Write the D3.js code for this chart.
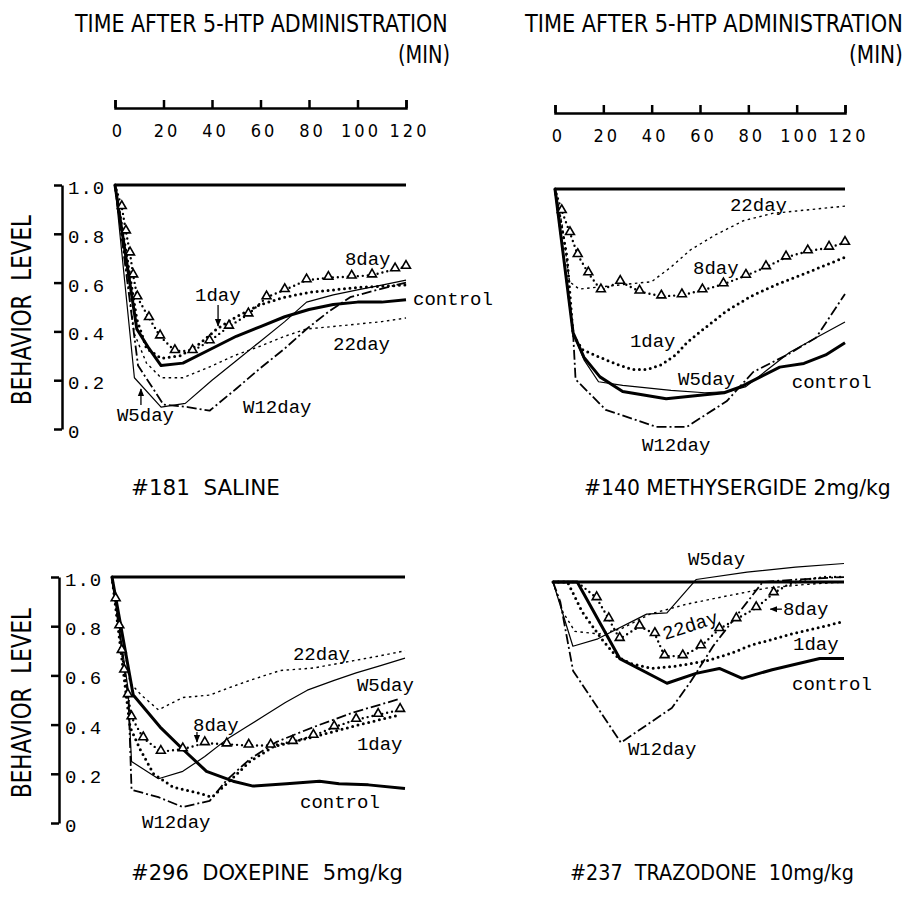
<!DOCTYPE html>
<html>
<head>
<meta charset="utf-8">
<script src="https://cdn.jsdelivr.net/npm/d3@7"></script>
<style>
  html, body { margin: 0; padding: 0; background: #fff; }
  svg { display: block; }
  .mono { font-family: "Liberation Mono", "DejaVu Sans Mono", monospace; }
  .narrow { font-family: "Liberation Sans Narrow", "DejaVu Sans Condensed", "Liberation Sans", sans-serif; white-space: pre; }
</style>
</head>
<body>
<div id="chart"></div>
<script>
// Axes
const TIME_TICKS = [0, 20, 40, 60, 80, 100, 120];
const LEVEL_TICKS = [0, 0.2, 0.4, 0.6, 0.8, 1.0];
const BASELINE = [[0, 1.0], [120, 1.0]];

// #181 saline  [time (min), behavior level]
const salineControl = [[0,1],[9,0.41],[14,0.33],[19,0.26],[28,0.27],[40,0.33],[50,0.38],[60,0.42],[70,0.46],[80,0.49],[90,0.51],[100,0.52],[110,0.52],[120,0.53]];
const salineW5day = [[0,1],[8,0.21],[19,0.09],[29,0.105],[40,0.2],[50,0.28],[60,0.36],[70,0.44],[79,0.52],[90,0.55],[100,0.57],[110,0.59],[120,0.61]];
const salineW12day = [[0,1],[9.5,0.26],[20,0.10],[30,0.09],[39,0.075],[50,0.165],[60,0.25],[70,0.33],[79,0.41],[88,0.48],[97,0.54],[108,0.57],[120,0.60]];
const saline1day = [[0,1],[5,0.7],[9,0.45],[13,0.33],[19,0.29],[27,0.30],[35,0.35],[42,0.41],[50,0.46],[60,0.51],[70,0.54],[80,0.56],[90,0.57],[100,0.58],[110,0.585],[120,0.59]];
const saline8day = [[0,1],[2.8,0.91],[4.5,0.81],[6.2,0.72],[7.5,0.63],[9.2,0.54],[14,0.455],[18.6,0.38],[24.7,0.32],[32,0.32],[39,0.36],[47,0.42],[55,0.47],[62.5,0.54],[70,0.57],[79,0.61],[88,0.62],[97.6,0.625],[106,0.63],[115.5,0.655],[120,0.665]];
const saline22day = [[0,1],[8,0.39],[13,0.27],[19,0.21],[28,0.21],[38,0.25],[49,0.30],[60,0.34],[70,0.38],[79,0.41],[90,0.42],[100,0.43],[110,0.44],[120,0.455]];

// #140 methysergide 2mg/kg
const methyControl = [[0,1],[7.5,0.41],[12,0.31],[18.6,0.23],[28,0.17],[46,0.14],[60,0.155],[70,0.165],[77,0.19],[85,0.23],[93,0.27],[103,0.285],[112,0.32],[120,0.37]];
const methyW5day = [[0,1],[7.5,0.41],[12,0.3],[18,0.21],[28,0.195],[48,0.175],[62,0.165],[72,0.17],[79,0.19],[88,0.26],[97,0.33],[108,0.39],[120,0.455]];
const methyW12day = [[0,1],[7.5,0.41],[8.5,0.22],[21,0.095],[42,0.025],[54.5,0.025],[71,0.13],[82,0.25],[96,0.32],[108,0.39],[120,0.57]];
const methy1day = [[0,1],[5,0.72],[7.5,0.40],[11.6,0.34],[18.6,0.31],[26,0.28],[32,0.26],[38,0.26],[44,0.28],[50,0.32],[54.5,0.37],[62,0.43],[71,0.50],[81,0.56],[92,0.61],[100,0.64],[110,0.68],[120,0.72]];
const methy8day = [[0,1],[2.8,0.91],[6.2,0.82],[9.4,0.73],[13.8,0.655],[19,0.585],[27,0.62],[35,0.58],[44,0.56],[52.5,0.565],[61,0.585],[69.7,0.61],[79,0.645],[87.3,0.68],[95.6,0.72],[104.6,0.745],[113.4,0.76],[120,0.78]];
const methy22day = [[0,1],[3,0.85],[6,0.62],[10,0.59],[20,0.6],[30,0.61],[40,0.62],[48,0.68],[56,0.75],[66,0.81],[78,0.87],[90,0.9],[100,0.91],[110,0.92],[120,0.93]];

// #296 doxepine 5mg/kg
const doxeControl = [[0,1],[8.7,0.52],[19.7,0.39],[29,0.30],[38.7,0.21],[49.6,0.17],[57.8,0.15],[71.5,0.16],[85,0.17],[93,0.16],[105,0.155],[120,0.14]];
const doxeW5day = [[0,1],[6.5,0.55],[8,0.25],[19,0.18],[29,0.21],[38,0.27],[47,0.34],[55,0.39],[63,0.44],[71,0.49],[80,0.54],[91,0.58],[100,0.61],[110,0.64],[120,0.67]];
const doxeW12day = [[0,1],[6.8,0.5],[8,0.135],[19,0.105],[29,0.065],[40,0.09],[47,0.175],[56.5,0.26],[67.5,0.33],[82.5,0.39],[99,0.45],[118,0.505]];
const doxe1day = [[0,1],[7.4,0.39],[11.5,0.30],[17,0.20],[25,0.146],[36,0.12],[41,0.105],[47,0.16],[56.5,0.25],[66,0.31],[82.5,0.35],[101.5,0.40],[118,0.44]];
const doxe8day = [[0,1],[1.5,0.91],[3,0.8],[4,0.7],[5,0.62],[6.5,0.52],[8,0.43],[12.8,0.345],[20,0.29],[29,0.30],[38,0.325],[47,0.32],[56,0.315],[65,0.315],[74,0.33],[82.5,0.355],[91,0.39],[100,0.42],[109,0.44],[118,0.46]];
const doxe22day = [[0,1],[7.4,0.57],[12,0.52],[19,0.46],[29,0.51],[40,0.52],[48,0.55],[56.5,0.58],[69,0.62],[82.5,0.63],[99,0.66],[110,0.68],[120,0.70]];

// #237 trazodone 10mg/kg
const trazoControl = [[0,1],[10,1.0],[27.5,0.69],[47,0.59],[59,0.63],[68.6,0.65],[78,0.61],[90.4,0.645],[110,0.69],[120,0.69]];
const trazoW5day = [[0,1],[8.2,0.74],[18.5,0.77],[38.6,0.87],[47,0.875],[59,1.01],[80,1.04],[100,1.06],[120,1.075]];
const trazoW12day = [[0,1],[3,0.92],[8.3,0.64],[28,0.35],[49,0.49],[57,0.60],[66,0.74],[77,0.88],[86.5,1.0],[100,1.01],[120,1.02]];
const trazo1day = [[0,1],[6,1.0],[12,0.88],[20,0.77],[26,0.70],[32,0.67],[41,0.65],[51,0.66],[63,0.68],[73,0.71],[82,0.745],[98.6,0.79],[120,0.84]];
const trazo8day = [[0,1],[5,1.0],[10,1.0],[18,0.935],[23,0.85],[27.5,0.77],[35.7,0.82],[42,0.79],[46,0.70],[53.5,0.70],[61,0.74],[68.6,0.81],[75.6,0.85],[83.8,0.895],[91,0.955],[97,0.99],[104,1.01],[112,1.02],[120,1.02]];
const trazo22day = [[0,1],[4,0.88],[9,0.80],[19,0.79],[28,0.81],[40,0.87],[55,0.91],[70,0.94],[88,0.975],[104,0.99],[120,1.0]];

// curve labels, anchored in data units (time, level)
const salineLabels = [
  {text: "8day", t: 94.8, v: 0.672}, {text: "1day", t: 33, v: 0.525},
  {text: "control", t: 122.9, v: 0.508}, {text: "22day", t: 89.9, v: 0.324},
  {text: "W12day", t: 52.8, v: 0.066}, {text: "W5day", t: 0.8, v: 0.033}
];
const salineArrows = [{t1: 42.5, v1: 0.508, t2: 42.5, v2: 0.422}, {t1: 10.7, v1: 0.098, t2: 10.7, v2: 0.164}];
const methyLabels = [
  {text: "22day", t: 72.4, v: 0.91}, {text: "8day", t: 57.1, v: 0.652},
  {text: "1day", t: 31, v: 0.352}, {text: "W5day", t: 50.9, v: 0.197},
  {text: "control", t: 98, v: 0.184}, {text: "W12day", t: 36, v: -0.074}
];
const doxeLabels = [
  {text: "22day", t: 74.1, v: 0.663}, {text: "W5day", t: 100.3, v: 0.537},
  {text: "8day", t: 33.2, v: 0.374}, {text: "1day", t: 100.3, v: 0.297},
  {text: "control", t: 77, v: 0.061}, {text: "W12day", t: 12.3, v: -0.02}
];
const doxeArrows = [{t1: 34.8, v1: 0.37, t2: 34.8, v2: 0.329}];
const trazoLabels = [
  {text: "W5day", t: 55.7, v: 1.069}, {text: "8day", t: 94.8, v: 0.866},
  {text: "22day", t: 46.2, v: 0.765, rotate: -18}, {text: "1day", t: 99, v: 0.725},
  {text: "control", t: 98.6, v: 0.563}, {text: "W12day", t: 30.9, v: 0.30}
];
const trazoArrows = [{t1: 94.4, v1: 0.89, t2: 89.6, v2: 0.89}];

// line styles for each condition
const STYLES = {
    base:    {width: 3},
    control: {width: 3},
    w5:      {width: 1.2},
    d1:      {width: 3, dash: "0 5.5", cap: "round"},
    d8:      {width: 2.4, dash: "0 5", cap: "round"},
    d22:     {width: 1.4, dash: "2.5 3.5"},
    w12:     {width: 1.8, dash: "10 3 2 3"}
};

const panels = [
    {x: [115, 406], y: [429, 185], yAxis: true, timeAxis: 108,
     series: {control: salineControl, w5: salineW5day, w12: salineW12day, d1: saline1day, d22: saline22day, d8: saline8day},
     labels: salineLabels, arrows: salineArrows,
     title: [75, 448, 398, 450], caption: ["#181  SALINE", 131, 495, 149]},
    {x: [555, 845], y: [433, 189], yAxis: false, timeAxis: 113,
     series: {control: methyControl, w5: methyW5day, w12: methyW12day, d1: methy1day, d22: methy22day, d8: methy8day},
     labels: methyLabels, arrows: [],
     title: [525, 903, 849, 903], caption: ["#140 METHYSERGIDE 2mg/kg", 584, 495, 307]},
    {x: [112, 405], y: [823, 577], yAxis: true,
     series: {control: doxeControl, w5: doxeW5day, w12: doxeW12day, d1: doxe1day, d22: doxe22day, d8: doxe8day},
     labels: doxeLabels, arrows: doxeArrows,
     caption: ["#296  DOXEPINE  5mg/kg", 131, 880, 272]},
    {x: [553, 844], y: [829, 582], yAxis: false,
     series: {control: trazoControl, w5: trazoW5day, w12: trazoW12day, d1: trazo1day, d22: trazo22day, d8: trazo8day},
     labels: trazoLabels, arrows: trazoArrows,
     caption: ["#237  TRAZODONE  10mg/kg", 570, 880, 284]}
];

const svg = d3.select("#chart").append("svg")
    .attr("width", 913)
    .attr("height", 903);

svg.append("rect").attr("width", 913).attr("height", 903).attr("fill", "#fff");

svg.append("defs").append("marker")
    .attr("id", "arrow")
    .attr("viewBox", "0 0 10 10")
    .attr("refX", 9).attr("refY", 5)
    .attr("markerWidth", 6).attr("markerHeight", 6)
    .attr("orient", "auto")
    .append("path")
    .attr("d", "M0,1L10,5L0,9Z")
    .attr("fill", "#000");

// narrow typewriter-style text: squeeze to the wanted width
function fitText(g, str, size, width, transform) {
    const t = g.append("text").attr("class", "narrow")
        .style("font-size", size + "px")
        .text(str);
    const w = t.node().getComputedTextLength();
    t.attr("transform", `${transform} scale(${width / w},1)`);
    return t;
}

panels.forEach(p => {
    const x = d3.scaleLinear().domain([0, 120]).range(p.x);
    const y = d3.scaleLinear().domain([0, 1]).range(p.y);
    const g = svg.append("g");

    // time scale bar with title
    if (p.timeAxis) {
        const ax = g.append("g")
            .attr("transform", `translate(0,${p.timeAxis})`)
            .call(d3.axisBottom(x).tickValues(TIME_TICKS)
                .tickSizeInner(-8).tickSizeOuter(-8).tickPadding(16));
        ax.selectAll("path, line").attr("stroke", "#000").attr("stroke-width", 2.5);
        ax.selectAll("text")
            .attr("class", "narrow")
            .attr("dx", "3px")
            .style("font-size", "18px")
            .style("letter-spacing", "3px")
            .attr("fill", "#000");

        fitText(g, "TIME AFTER 5-HTP ADMINISTRATION", 25, p.title[1] - p.title[0],
            `translate(${p.title[0]},32)`);
        fitText(g, "(MIN)", 24, p.title[3] - p.title[2], `translate(${p.title[2]},63)`);
    }

    // behavior level axis
    if (p.yAxis) {
        const ay = g.append("g")
            .attr("transform", `translate(${p.x[0] - 53},0)`)
            .call(d3.axisRight(y).tickValues(LEVEL_TICKS)
                .tickSizeInner(-8).tickSizeOuter(0).tickPadding(6)
                .tickFormat(d => d === 0 ? "0" : d3.format(".1f")(d)));
        ay.selectAll("path, line").attr("stroke", "#000").attr("stroke-width", 2.5);
        ay.selectAll("text")
            .attr("class", "mono")
            .attr("dy", "0.45em")
            .style("font-size", "19px")
            .style("letter-spacing", "1px")
            .attr("fill", "#000");

        const cy = (p.y[0] + p.y[1]) / 2 + 3;
        fitText(g, "BEHAVIOR  LEVEL", 26, 190, `translate(31,${cy}) rotate(-90)`)
            .attr("text-anchor", "middle");
    }

    const line = d3.line().x(d => x(d[0])).y(d => y(d[1]));

    // reference level 1.0
    g.append("path")
        .attr("d", line(BASELINE))
        .attr("fill", "none")
        .attr("stroke", "#000")
        .attr("stroke-width", STYLES.base.width);

    Object.entries(p.series).forEach(([key, values]) => {
        const s = STYLES[key];
        g.append("path")
            .attr("d", line(values))
            .attr("fill", "none")
            .attr("stroke", "#000")
            .attr("stroke-width", s.width)
            .attr("stroke-dasharray", s.dash || null)
            .attr("stroke-linecap", s.cap || "butt")
            .attr("stroke-linejoin", "round");
    });

    // open triangles on the 8day series
    g.selectAll(".tri")
        .data(p.series.d8.filter(d => d[0] > 0 && d[1] < 0.97))
        .enter()
        .append("path")
        .attr("class", "tri")
        .attr("transform", d => `translate(${x(d[0])},${y(d[1]) - 1})`)
        .attr("d", d3.symbol(d3.symbolTriangle, 34))
        .attr("fill", "#fff")
        .attr("stroke", "#000")
        .attr("stroke-width", 1.6);

    // curve labels
    p.labels.forEach(l => {
        const t = g.append("text").attr("class", "mono")
            .style("font-size", "19px")
            .text(l.text);
        if (l.rotate) {
            t.attr("transform", `translate(${x(l.t)},${y(l.v)}) rotate(${l.rotate})`);
        } else {
            t.attr("x", x(l.t)).attr("y", y(l.v));
        }
    });

    p.arrows.forEach(a => {
        g.append("line")
            .attr("x1", x(a.t1)).attr("y1", y(a.v1))
            .attr("x2", x(a.t2)).attr("y2", y(a.v2))
            .attr("stroke", "#000")
            .attr("stroke-width", 1.3)
            .attr("marker-end", "url(#arrow)");
    });

    // panel caption
    fitText(g, p.caption[0], 22, p.caption[3], `translate(${p.caption[1]},${p.caption[2]})`);
});
</script>
</body>
</html>
